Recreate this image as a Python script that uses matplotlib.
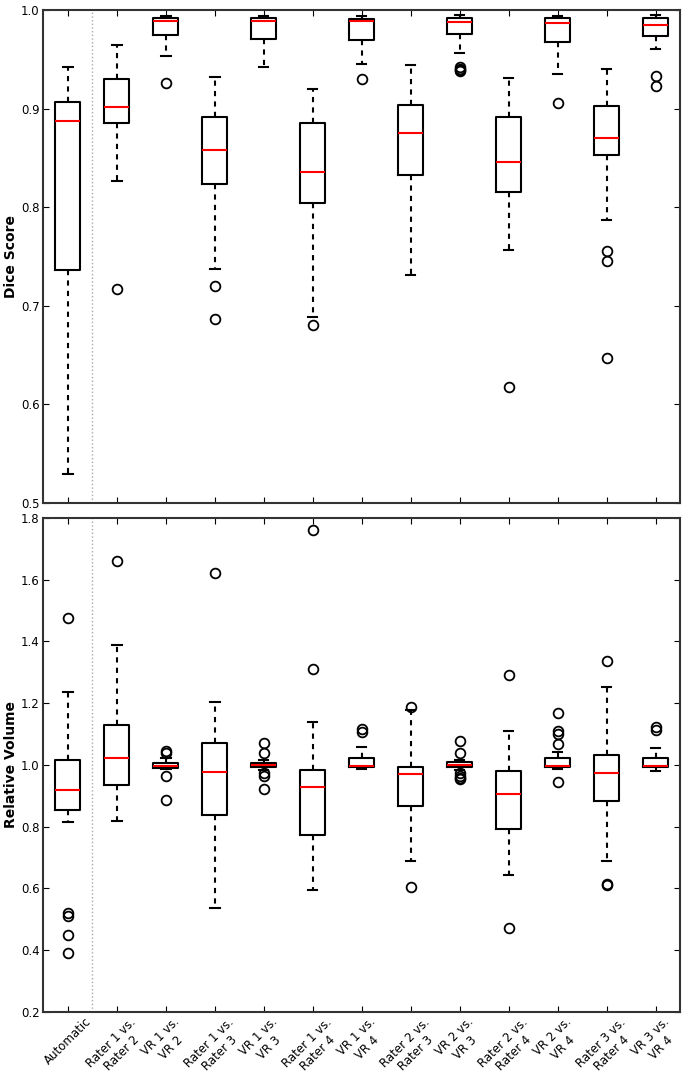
import numpy as np
import matplotlib
matplotlib.use('Agg')
import matplotlib.pyplot as plt

#%% valores
etiquetas = ['Automatic', 'Rater 1 vs.\nRater 2', 'VR 1 vs.\nVR 2', 'Rater 1 vs.\nRater 3',
             'VR 1 vs.\nVR 3', 'Rater 1 vs.\nRater 4', 'VR 1 vs.\nVR 4', 'Rater 2 vs.\nRater 3',
             'VR 2 vs.\nVR 3', 'Rater 2 vs.\nRater 4', 'VR 2 vs.\nVR 4', 'Rater 3 vs.\nRater 4',
             'VR 3 vs.\nVR 4']

# Dice
dice_whishi = [0.942, 0.965, 0.994, 0.932, 0.994, 0.920, 0.994, 0.944, 0.995, 0.931, 0.994, 0.940, 0.995]
dice_q3     = [0.907, 0.930, 0.992, 0.892, 0.992, 0.885, 0.991, 0.904, 0.992, 0.891, 0.992, 0.903, 0.992]
dice_med    = [0.887, 0.902, 0.989, 0.858, 0.989, 0.836, 0.989, 0.875, 0.988, 0.846, 0.987, 0.870, 0.985]
dice_q1     = [0.736, 0.885, 0.975, 0.824, 0.971, 0.804, 0.970, 0.833, 0.976, 0.815, 0.968, 0.853, 0.974]
dice_whislo = [0.529, 0.827, 0.953, 0.737, 0.942, 0.689, 0.945, 0.731, 0.956, 0.757, 0.935, 0.787, 0.960]
dice_fliers = [[], [0.717], [0.926], [0.720, 0.687], [], [0.681], [0.930], [],
               [0.942, 0.940, 0.939, 0.938], [0.618], [0.906], [0.756, 0.745, 0.647], [0.933, 0.923]]

# Volumen relativo
vol_whishi = [1.236, 1.390, 1.022, 1.205, 1.016, 1.138, 1.059, 1.178, 1.016, 1.110, 1.043, 1.253, 1.056]
vol_q3     = [1.016, 1.130, 1.007, 1.072, 1.006, 0.983, 1.022, 0.993, 1.008, 0.981, 1.022, 1.033, 1.022]
vol_med    = [0.920, 1.021, 0.998, 0.976, 1.000, 0.929, 0.998, 0.970, 1.000, 0.906, 0.997, 0.974, 0.998]
vol_q1     = [0.853, 0.934, 0.989, 0.837, 0.993, 0.773, 0.993, 0.868, 0.992, 0.793, 0.992, 0.882, 0.995]
vol_whislo = [0.815, 0.820, 0.986, 0.536, 0.984, 0.594, 0.986, 0.689, 0.984, 0.644, 0.987, 0.689, 0.982]
vol_fliers = [[1.475, 0.522, 0.512, 0.450, 0.391], [1.661], [1.045, 1.040, 0.964, 0.887], [1.623],
              [1.072, 1.038, 0.973, 0.964, 0.921], [1.760, 1.312], [1.118, 1.106], [1.189, 0.606],
              [1.079, 1.038, 0.975, 0.965, 0.958, 0.955], [1.293, 0.473],
              [1.167, 1.109, 1.100, 1.068, 0.945], [1.337, 0.615, 0.611], [1.124, 1.113]]


#%%
def estadisticas(whislo, q1, med, q3, whishi, fliers):
    stats = []
    for i in range(len(med)):
        stats.append({'whislo': whislo[i], 'q1': q1[i], 'med': med[i], 'q3': q3[i],
                      'whishi': whishi[i], 'fliers': fliers[i]})
    return stats


def caja(ax, stats):
    ax.bxp(stats, positions=range(1, len(stats) + 1), widths=0.5, capwidths=0.2,
           boxprops=dict(color='k', linewidth=1.5),
           whiskerprops=dict(color='k', linewidth=1.5, linestyle='--', dashes=(2.5, 2.5)),
           capprops=dict(color='k', linewidth=1.5),
           medianprops=dict(color='red', linewidth=1.5),
           flierprops=dict(marker='o', markerfacecolor='none', markeredgecolor='k',
                           markersize=7, markeredgewidth=1.3))
    ax.axvline(1.5, color='#aaaaaa', linestyle=':', linewidth=1)
    ax.set_xlim(0.5, len(stats) + 0.5)
    ax.tick_params(direction='in', top=True, right=True, labelsize=8.5, length=4, pad=2.5)
    ax.yaxis.set_label_coords(-0.039, 0.5)
    for s in ax.spines.values():
        s.set_linewidth(1.5)
        s.set_color('#333333')


fig = plt.figure(figsize=(6.85, 10.8), dpi=100)
ax1 = fig.add_axes([0.063, 0.5343, 0.9297, 0.4564])
ax2 = fig.add_axes([0.063, 0.063, 0.9297, 0.4574])

caja(ax1, estadisticas(dice_whislo, dice_q1, dice_med, dice_q3, dice_whishi, dice_fliers))
ax1.set_ylim(0.5, 1.0)
ax1.set_yticks(np.arange(0.5, 1.01, 0.1))
ax1.set_xticklabels([])
ax1.set_ylabel('Dice Score', fontsize=10, fontweight='bold')

caja(ax2, estadisticas(vol_whislo, vol_q1, vol_med, vol_q3, vol_whishi, vol_fliers))
ax2.set_ylim(0.2, 1.8)
ax2.set_yticks(np.arange(0.2, 1.81, 0.2))
ax2.set_xticks(range(1, len(etiquetas) + 1))
ax2.set_xticklabels(etiquetas, rotation=45, ha='center', multialignment='center', fontsize=8.5)
ax2.set_ylabel('Relative Volume', fontsize=10, fontweight='bold')

fig.savefig('out.png', dpi=100)
